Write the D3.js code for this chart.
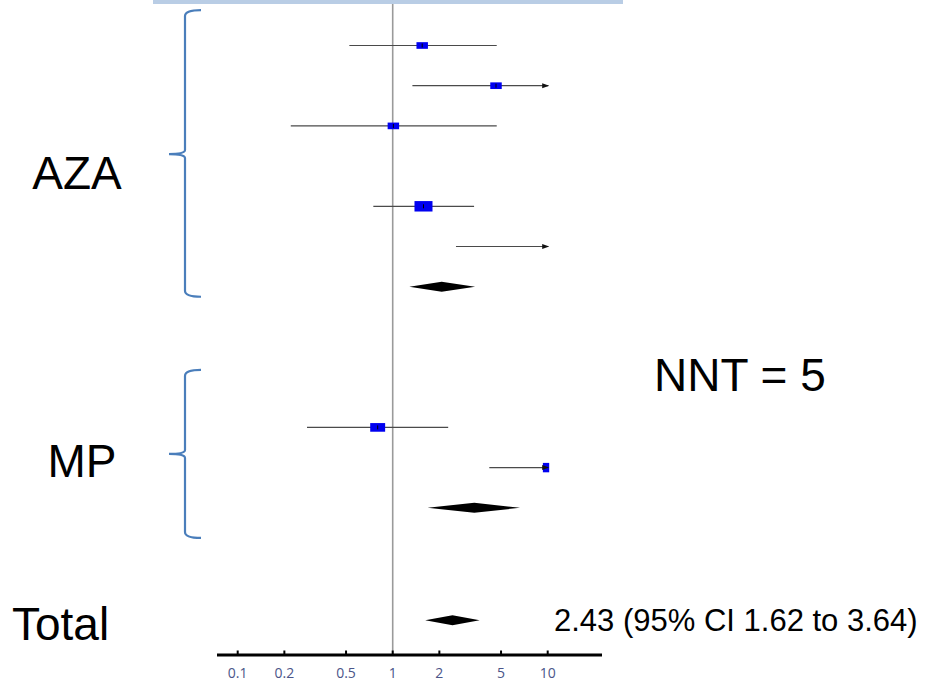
<!DOCTYPE html>
<html>
<head>
<meta charset="utf-8">
<script src="https://cdn.jsdelivr.net/npm/d3@7/dist/d3.min.js"></script>
<style>
  html, body { margin: 0; padding: 0; background: #fff; }
  svg { display: block; font-family: "Liberation Sans", Arial, sans-serif; }
</style>
</head>
<body>
<div id="grafico"></div>
<script>
// estudos individuais (razao de chances e IC 95%)
const grupos = ['AZA', 'AZA', 'AZA', 'AZA', 'AZA', 'MP', 'MP'];
const linhas = [0, 1, 2, 4, 5, 9.5, 10.5];
const estimativas = [1.55, 4.64, 1.01, 1.58, 20, 0.8, 10.5];
const inferiores = [0.525, 1.34, 0.22, 0.75, 2.56, 0.28, 4.2];
const superiores = [4.69, 15, 4.69, 3.35, 40, 2.28, 30];
const pesos = [6.5, 6.5, 6.5, 16, 5, 11, 13];

// resultados combinados (diamantes)
const combinadosNome = ['AZA', 'MP', 'Total'];
const combinadosLinha = [6, 11.5, 14.3];
const combinadosEst = [2.07, 3.36, 2.43];
const combinadosInf = [1.28, 1.68, 1.62];
const combinadosSup = [3.40, 6.63, 3.64];

// chaves que agrupam os estudos
const chavesNome = ['AZA', 'MP'];
const chavesTopo = [-0.88, 8.07];
const chavesPonta = [2.7, 10.16];
const chavesBase = [6.25, 12.25];
const rotulosLinha = [3.56, 10.73];

const ticks = [0.1, 0.2, 0.5, 1, 2, 5, 10];
const textoTotal = '2.43 (95% CI 1.62 to 3.64)';
const textoNNT = 'NNT = 5';

const width = 932, height = 688;
const svg = d3.select('#grafico')
  .append('svg')
  .attr('width', width)
  .attr('height', height);

const x = d3.scaleLog().domain([0.1, 10]).range([237.7, 547.7]);
const y = d3.scaleLinear().domain([0, 14]).range([45.5, 608.3]);
const tamanho = d3.scaleSqrt().domain([0, 16]).range([0, 18]);
const xMax = x(10) + 1.5;

// faixa azul no topo
svg.append('rect')
  .attr('x', 153).attr('y', 0)
  .attr('width', 470).attr('height', 4)
  .attr('fill', '#b9cde5');

svg.append('defs').append('clipPath')
  .attr('id', 'recorte')
  .append('rect')
  .attr('x', 0).attr('y', 0)
  .attr('width', xMax).attr('height', height);

// linha de nulidade
svg.append('line')
  .attr('x1', x(1)).attr('x2', x(1))
  .attr('y1', 4).attr('y2', 655)
  .attr('stroke', '#9a9a9a')
  .attr('stroke-width', 1.6);

const estudos = linhas.map((l, i) => ({
  linha: l, est: estimativas[i], lo: inferiores[i], hi: superiores[i], peso: pesos[i]
}));

const g = svg.append('g').attr('clip-path', 'url(#recorte)');

g.selectAll('line.ic')
  .data(estudos)
  .enter()
  .append('line')
  .attr('class', 'ic')
  .attr('x1', d => x(d.lo))
  .attr('x2', d => Math.min(x(d.hi), xMax - 1))
  .attr('y1', d => y(d.linha))
  .attr('y2', d => y(d.linha))
  .attr('stroke', '#4a4a4a')
  .attr('stroke-width', 1.2);

g.selectAll('rect.caixa')
  .data(estudos)
  .enter()
  .append('rect')
  .attr('class', 'caixa')
  .attr('x', d => x(d.est) - tamanho(d.peso) / 2)
  .attr('y', d => y(d.linha) - tamanho(d.peso) * 0.29)
  .attr('width', d => tamanho(d.peso))
  .attr('height', d => tamanho(d.peso) * 0.58)
  .attr('fill', '#0000f0');

g.selectAll('line.marca')
  .data(estudos.filter(d => d.est <= 10))
  .enter()
  .append('line')
  .attr('class', 'marca')
  .attr('x1', d => x(d.est)).attr('x2', d => x(d.est))
  .attr('y1', d => y(d.linha) - 2).attr('y2', d => y(d.linha) + 2)
  .attr('stroke', '#000')
  .attr('stroke-width', 1);

// setas para IC fora da escala
svg.selectAll('path.seta')
  .data(estudos.filter(d => d.hi > 10))
  .enter()
  .append('path')
  .attr('class', 'seta')
  .attr('d', d => {
    const yy = y(d.linha), xx = xMax;
    return `M${xx},${yy} L${xx - 7},${yy - 2.5} L${xx - 7},${yy + 2.5} Z`;
  })
  .attr('fill', '#111');

// diamantes
const combinados = combinadosLinha.map((l, i) => ({
  linha: l, est: combinadosEst[i], lo: combinadosInf[i], hi: combinadosSup[i]
}));

svg.selectAll('path.diamante')
  .data(combinados)
  .enter()
  .append('path')
  .attr('class', 'diamante')
  .attr('d', d => {
    const yy = y(d.linha);
    return `M${x(d.lo)},${yy} L${x(d.est)},${yy - 5} L${x(d.hi)},${yy} L${x(d.est)},${yy + 5} Z`;
  })
  .attr('fill', '#000');

// eixo
svg.append('line')
  .attr('x1', 217).attr('x2', 602)
  .attr('y1', 655).attr('y2', 655)
  .attr('stroke', '#000')
  .attr('stroke-width', 3);

svg.selectAll('line.tick')
  .data(ticks)
  .enter()
  .append('line')
  .attr('class', 'tick')
  .attr('x1', d => x(d)).attr('x2', d => x(d))
  .attr('y1', 650.5).attr('y2', 655)
  .attr('stroke', '#000')
  .attr('stroke-width', 2);

svg.selectAll('text.tick')
  .data(ticks)
  .enter()
  .append('text')
  .attr('class', 'tick')
  .attr('x', d => x(d))
  .attr('y', 678)
  .attr('text-anchor', 'middle')
  .attr('font-family', '"Open Sans", sans-serif')
  .attr('font-size', 14)
  .attr('fill', '#4b5589')
  .text(d => String(d));

// chaves
const chaveX = 185;
svg.selectAll('path.chave')
  .data(chavesNome.map((n, i) => ({ topo: y(chavesTopo[i]), ponta: y(chavesPonta[i]), base: y(chavesBase[i]) })))
  .enter()
  .append('path')
  .attr('class', 'chave')
  .attr('d', d => `M${chaveX + 16},${d.topo} Q${chaveX},${d.topo} ${chaveX},${d.topo + 6}
    L${chaveX},${d.ponta - 4} Q${chaveX},${d.ponta} ${chaveX - 16},${d.ponta}
    Q${chaveX},${d.ponta} ${chaveX},${d.ponta + 4}
    L${chaveX},${d.base - 6} Q${chaveX},${d.base} ${chaveX + 16},${d.base}`)
  .attr('fill', 'none')
  .attr('stroke', '#4a7ebb')
  .attr('stroke-width', 2.2);

// rotulos
svg.selectAll('text.grupo')
  .data(chavesNome)
  .enter()
  .append('text')
  .attr('class', 'grupo')
  .attr('x', (d, i) => i === 0 ? 77 : 82)
  .attr('y', (d, i) => y(rotulosLinha[i]))
  .attr('text-anchor', 'middle')
  .attr('font-size', 46)
  .attr('fill', '#000')
  .text(d => d);

svg.append('text')
  .attr('x', 12).attr('y', 640)
  .attr('font-size', 46)
  .text('Total');

svg.append('text')
  .attr('x', 654).attr('y', 391)
  .attr('font-size', 46)
  .text(textoNNT);

svg.append('text')
  .attr('x', 554).attr('y', 631)
  .attr('font-size', 31)
  .text(textoTotal);
</script>
</body>
</html>
